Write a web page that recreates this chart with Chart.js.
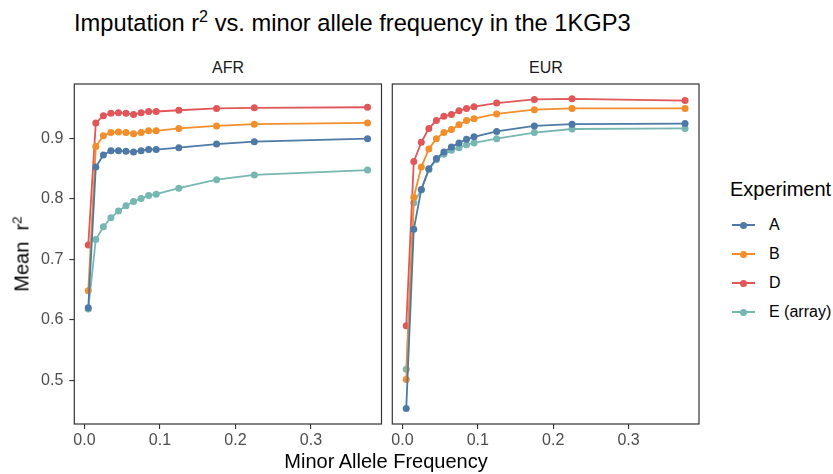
<!DOCTYPE html>
<html>
<head>
<meta charset="utf-8">
<script src="https://cdn.jsdelivr.net/npm/chart.js@4"></script>
<style>
  body { margin: 0; background: #fff; font-family: "Liberation Sans", Arial, sans-serif; }
  #wrap { position: relative; width: 833px; height: 474px; overflow: hidden; }
  .box { position: absolute; }
  .txt { position: absolute; white-space: nowrap; color: #000; }
  #titulo { left: 74px; top: 10px; font-size: 23.7px; }
  .strip { top: 59px; font-size: 16px; color: #1a1a1a; width: 100px; text-align: center; }
  #ejeX { left: 186px; width: 400px; text-align: center; top: 450px; font-size: 20px; }
  #ejeY { left: 22px; top: 254px; font-size: 20px; transform: translate(-50%, -50%) rotate(-90deg); }
  #leyenda { left: 730px; top: 178px; }
  #leyenda .tit { font-size: 20px; margin-bottom: 10px; }
  .item { position: relative; height: 29px; font-size: 16px; }
  .item .lin { position: absolute; left: 2px; top: 13px; width: 23px; height: 2px; }
  .item .pto { position: absolute; left: 10px; top: 10.5px; width: 7px; height: 7px; border-radius: 50%; }
  .item .lab { position: absolute; left: 39px; top: 5px; }
  sup { font-size: 0.68em; vertical-align: 0; position: relative; top: -0.55em; }
</style>
</head>
<body>
<div id="wrap">
  <div id="titulo" class="txt">Imputation r<sup>2</sup> vs. minor allele frequency in the 1KGP3</div>
  <div class="txt strip" style="left:178px">AFR</div>
  <div class="txt strip" style="left:496px">EUR</div>
  <div class="box" style="left:0;top:0;width:388px;height:474px"><canvas id="graficoAFR"></canvas></div>
  <div class="box" style="left:388px;top:0;width:318px;height:474px"><canvas id="graficoEUR"></canvas></div>
  <div id="ejeX" class="txt">Minor Allele Frequency</div>
  <div id="ejeY" class="txt">Mean&nbsp; r<sup>2</sup></div>
  <div id="leyenda" class="txt"></div>
</div>
<script>
// datos
const maf = [0.005, 0.015, 0.025, 0.035, 0.045, 0.055, 0.065, 0.075, 0.085, 0.095, 0.125, 0.175, 0.225, 0.375];
const experimentos = ['A', 'B', 'D', 'E (array)'];
const colores = ['#4E79A7', '#F28E2B', '#E15759', '#76B7B2'];

const afrA = [0.620, 0.853, 0.873, 0.880, 0.880, 0.879, 0.878, 0.880, 0.882, 0.882, 0.885, 0.891, 0.895, 0.900];
const afrB = [0.648, 0.887, 0.905, 0.910, 0.911, 0.910, 0.908, 0.910, 0.913, 0.913, 0.917, 0.921, 0.924, 0.926];
const afrD = [0.724, 0.926, 0.938, 0.942, 0.943, 0.942, 0.940, 0.943, 0.945, 0.945, 0.947, 0.950, 0.951, 0.952];
const afrE = [0.618, 0.733, 0.754, 0.769, 0.780, 0.789, 0.796, 0.801, 0.806, 0.808, 0.818, 0.832, 0.840, 0.848];

const eurA = [0.453, 0.750, 0.816, 0.850, 0.867, 0.878, 0.886, 0.893, 0.899, 0.903, 0.912, 0.921, 0.924, 0.925];
const eurB = [0.501, 0.803, 0.853, 0.883, 0.900, 0.910, 0.915, 0.923, 0.930, 0.933, 0.941, 0.948, 0.950, 0.950];
const eurD = [0.590, 0.862, 0.894, 0.917, 0.930, 0.937, 0.940, 0.946, 0.950, 0.953, 0.959, 0.965, 0.966, 0.963];
const eurE = [0.518, 0.794, 0.815, 0.849, 0.865, 0.874, 0.881, 0.885, 0.890, 0.893, 0.900, 0.910, 0.916, 0.917];

const ticksX = [0, 0.1, 0.2, 0.3];
const ticksY = [0.5, 0.6, 0.7, 0.8, 0.9];

const FUENTE = '"Liberation Sans", Arial, sans-serif';

// marco del panel (como theme_bw sin rejilla)
const marcoPanel = {
    id: 'marcoPanel',
    afterDatasetsDraw(chart) {
        const a = chart.chartArea, ctx = chart.ctx;
        ctx.save();
        ctx.strokeStyle = '#333333';
        ctx.lineWidth = 1.2;
        ctx.strokeRect(a.left, a.top, a.right - a.left, a.bottom - a.top);
        ctx.restore();
    }
};

function crearGrafico(id, series, conEjeY) {
    const datasets = series.map((s, i) => ({
        label: experimentos[i],
        data: maf.map((x, j) => ({ x: x, y: s[j] })),
        borderColor: colores[i],
        backgroundColor: colores[i],
        borderWidth: 1.8,
        pointRadius: 3.5,
        pointBorderWidth: 0,
        pointHoverRadius: 3.5,
        tension: 0
    }));

    return new Chart(document.getElementById(id), {
        type: 'line',
        data: { datasets },
        plugins: [marcoPanel],
        options: {
            responsive: true, maintainAspectRatio: false, animation: false,
            layout: { padding: conEjeY ? { top: 84, right: 6.5, left: 0, bottom: 0 } : { top: 84, right: 7, left: 4.3, bottom: 0 } },
            plugins: { legend: { display: false }, tooltip: { enabled: false } },
            scales: {
                x: {
                    type: 'linear', min: -0.0135, max: 0.3935,
                    afterBuildTicks: ax => { ax.ticks = ticksX.map(v => ({ value: v })); },
                    afterFit: ax => { ax.height = 50; },
                    border: { display: false },
                    grid: { drawOnChartArea: false, tickLength: 5, tickColor: '#333333', lineWidth: 1.1 },
                    ticks: { color: '#4d4d4d', font: { family: FUENTE, size: 16 }, padding: 2, maxRotation: 0,
                             callback: v => v.toFixed(1) }
                },
                y: {
                    type: 'linear', min: 0.4275, max: 0.9905, display: conEjeY,
                    afterBuildTicks: ax => { ax.ticks = ticksY.map(v => ({ value: v })); },
                    afterFit: ax => { ax.width = conEjeY ? 74.3 : 0; },
                    border: { display: false },
                    grid: { drawOnChartArea: false, tickLength: 5, tickColor: '#333333', lineWidth: 1.1 },
                    ticks: { color: '#4d4d4d', font: { family: FUENTE, size: 16 }, padding: 6,
                             callback: v => v.toFixed(1) }
                }
            }
        }
    });
}

crearGrafico('graficoAFR', [afrA, afrB, afrD, afrE], true);
crearGrafico('graficoEUR', [eurA, eurB, eurD, eurE], false);

// leyenda
document.getElementById('leyenda').innerHTML = '<div class="tit">Experiment</div>' +
    experimentos.map((e, i) => `
        <div class="item">
            <span class="lin" style="background:${colores[i]}"></span>
            <span class="pto" style="background:${colores[i]}"></span>
            <span class="lab">${e}</span>
        </div>`).join('');
</script>
</body>
</html>
